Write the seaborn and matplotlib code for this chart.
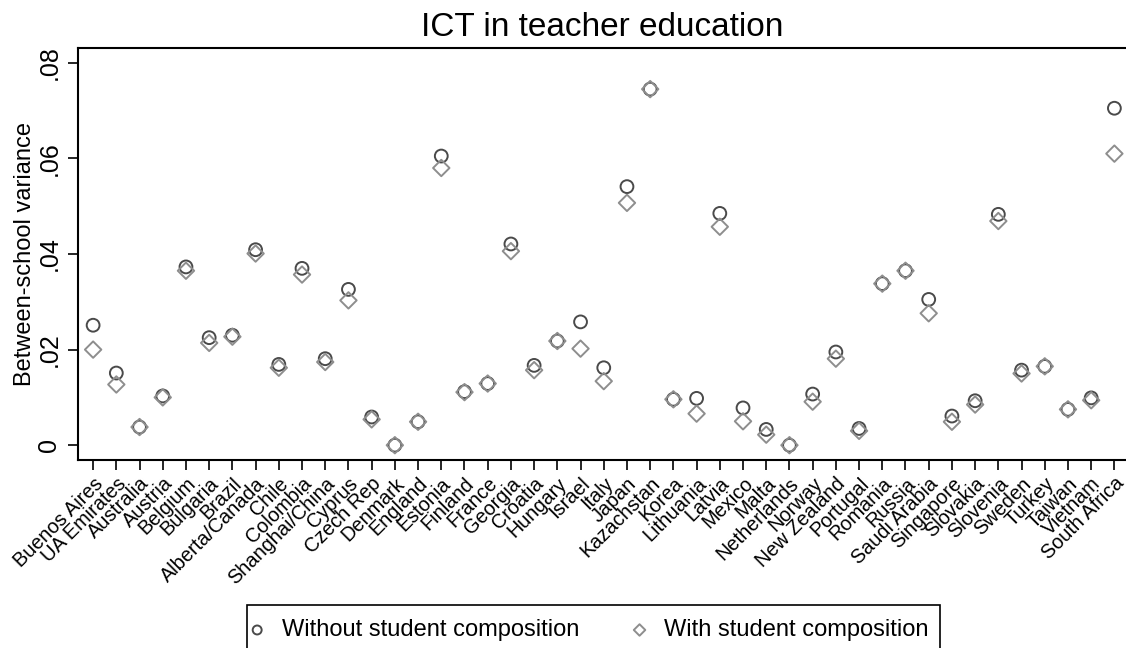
import numpy as np
import pandas as pd
import matplotlib
matplotlib.use("Agg")
import matplotlib.pyplot as plt
from matplotlib.patches import Rectangle
import seaborn as sns

# --- data ---
countries = [
    "Buenos Aires", "UA Emirates", "Australia", "Austria", "Belgium", "Bulgaria",
    "Brazil", "Alberta/Canada", "Chile", "Colombia", "Shanghai/China", "Cyprus",
    "Czech Rep", "Denmark", "England", "Estonia", "Finland", "France", "Georgia",
    "Croatia", "Hungary", "Israel", "Italy", "Japan", "Kazachstan", "Korea",
    "Lithuania", "Latvia", "Mexico", "Malta", "Netherlands", "Norway",
    "New Zealand", "Portugal", "Romania", "Russia", "Saudi Arabia", "Singapore",
    "Slovakia", "Slovenia", "Sweden", "Turkey", "Taiwan", "Vietnam", "South Africa",
]

without_comp = [
    0.0251, 0.0151, 0.0038, 0.0103, 0.0373, 0.0225, 0.0230, 0.0409, 0.0169,
    0.0370, 0.0181, 0.0326, 0.0059, 0.0000, 0.0049, 0.0605, 0.0112, 0.0129,
    0.0421, 0.0167, 0.0218, 0.0258, 0.0162, 0.0541, 0.0745, 0.0096, 0.0098,
    0.0485, 0.0078, 0.0033, 0.0000, 0.0107, 0.0195, 0.0035, 0.0338, 0.0365,
    0.0305, 0.0061, 0.0093, 0.0483, 0.0157, 0.0165, 0.0075, 0.0099, 0.0705,
]

with_comp = [
    0.0200, 0.0127, 0.0038, 0.0100, 0.0365, 0.0214, 0.0227, 0.0401, 0.0162,
    0.0357, 0.0174, 0.0303, 0.0054, 0.0000, 0.0049, 0.0580, 0.0111, 0.0129,
    0.0406, 0.0157, 0.0218, 0.0202, 0.0134, 0.0507, 0.0745, 0.0096, 0.0066,
    0.0457, 0.0050, 0.0022, 0.0000, 0.0091, 0.0181, 0.0030, 0.0338, 0.0365,
    0.0276, 0.0049, 0.0085, 0.0469, 0.0150, 0.0165, 0.0075, 0.0094, 0.0610,
]

y_ticks = [0, 0.02, 0.04, 0.06, 0.08]
y_tick_labels = ["0", ".02", ".04", ".06", ".08"]

label_without = "Without student composition"
label_with = "With student composition"

sns.set_style("white")
plt.rcParams["font.family"] = ["Liberation Sans", "DejaVu Sans"]
plt.rcParams["text.color"] = "black"
plt.rcParams["axes.labelcolor"] = "black"
plt.rcParams["xtick.color"] = "black"
plt.rcParams["ytick.color"] = "black"

fig = plt.figure(figsize=(11.26, 6.48), dpi=100)
ax = fig.add_axes([0.0693, 0.2901, 0.9307, 0.6358])

df = pd.DataFrame({"country": countries, "without": without_comp, "with": with_comp})

sns.scatterplot(data=df, x="country", y="without", ax=ax, marker="o", s=85,
                facecolor="none", edgecolor="#4a4a4a", linewidth=1.4,
                label=label_without, zorder=3)
sns.scatterplot(data=df, x="country", y="with", ax=ax, marker="D", s=70,
                facecolor="none", edgecolor="#8e8e8e", linewidth=1.4,
                label=label_with, zorder=4)

ax.set_xlim(-0.65, len(countries) - 0.5)
ax.set_ylim(-0.0031, 0.0831)

ax.set_yticks(y_ticks)
ax.set_yticklabels(y_tick_labels, rotation=90, va="center", fontsize=18)
ax.set_xticks(range(len(countries)))
ax.set_xticklabels(countries, rotation=45, ha="right", rotation_mode="anchor",
                   fontsize=14.3)
ax.tick_params(axis="both", direction="out", length=7, width=1.2, color="black",
               left=True, bottom=True)
ax.tick_params(axis="y", pad=5)
ax.tick_params(axis="x", pad=3)

for side in ["left", "top", "bottom"]:
    ax.spines[side].set_visible(True)
    ax.spines[side].set_color("black")
    ax.spines[side].set_linewidth(1.5)
ax.spines["right"].set_visible(False)

ax.set_xlabel("")
ax.set_ylabel("Between-school variance", fontsize=17, labelpad=1)
fig.suptitle("ICT in teacher education", fontsize=24, x=0.535, y=0.981, va="top")

# legend: entries without frame, box drawn separately (it runs off the bottom)
if ax.legend_:
    ax.legend_.remove()
handles, labels = ax.get_legend_handles_labels()
fig.legend(handles, labels, loc="center", bbox_to_anchor=(0.5235, 0.0275),
           ncol=2, fontsize=17, frameon=False, columnspacing=2.25,
           handletextpad=0.75, handlelength=0.6, borderpad=0.0,
           borderaxespad=0.0, markerscale=0.7)
fig.patches.append(Rectangle((247 / 1126, -0.05), (940 - 247) / 1126,
                             (1 - 605 / 648) + 0.05, transform=fig.transFigure,
                             fill=False, edgecolor="black", linewidth=1.2))

fig.savefig("out.png", dpi=100)
